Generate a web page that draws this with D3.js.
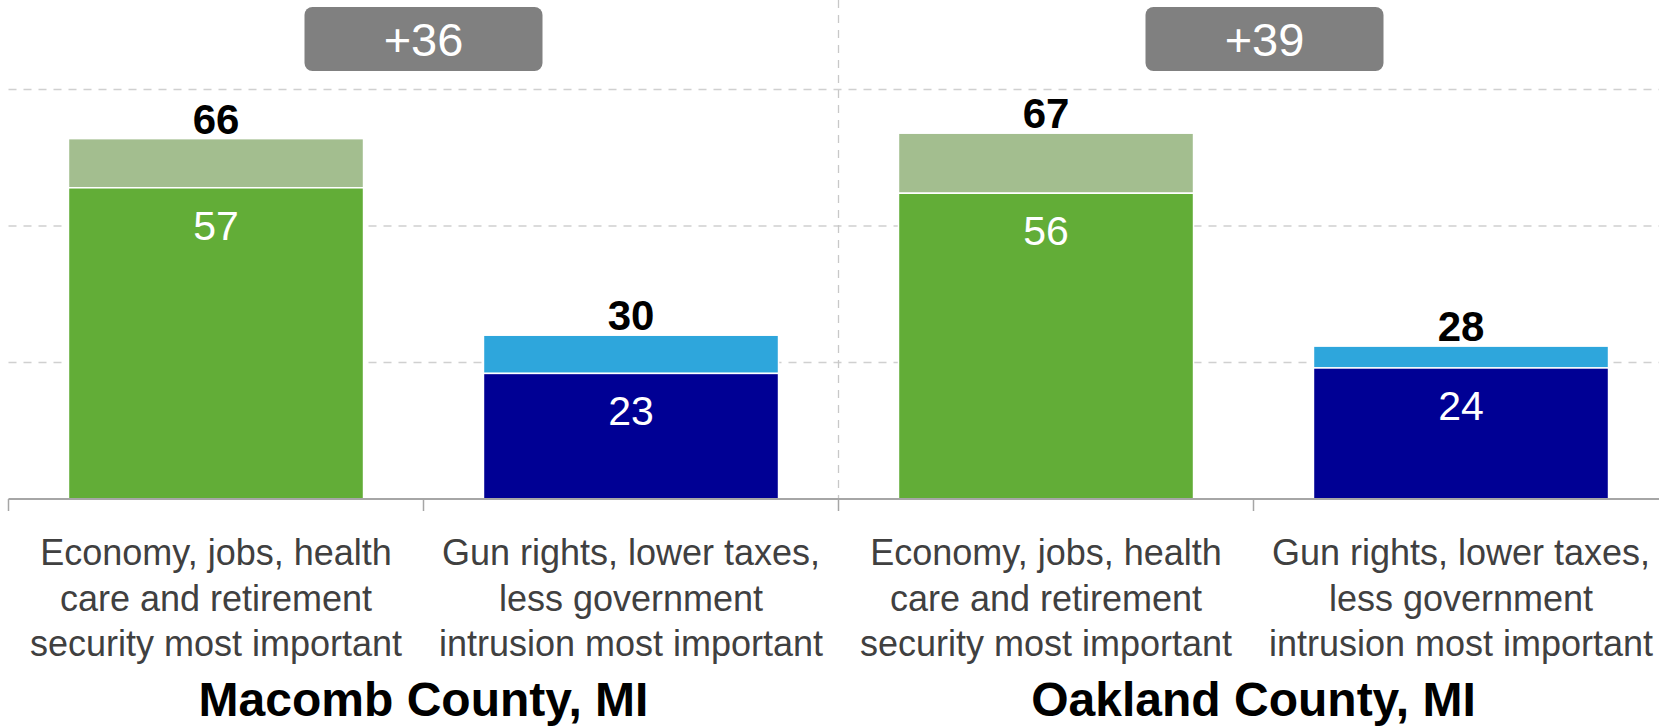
<!DOCTYPE html>
<html>
<head>
<meta charset="utf-8">
<script src="https://cdn.jsdelivr.net/npm/d3@7"></script>
<style>
  html, body { margin: 0; padding: 0; background: #fff; }
  svg { display: block; }
  text { font-family: "Liberation Sans", Arial, Helvetica, sans-serif; }
</style>
</head>
<body>
<svg id="chart" width="1659" height="726"></svg>
<script>
// ---- data ----
const panels = ["Macomb County, MI", "Oakland County, MI"];
const categories = [
  ["Economy, jobs, health", "care and retirement", "security most important"],
  ["Gun rights, lower taxes,", "less government", "intrusion most important"]
];
const coreValues  = [[57, 23], [56, 24]];   // dark segment
const totalValues = [[66, 30], [67, 28]];   // total (label on top)
const marginLabels = ["+36", "+39"];
const yTicks = [25, 50, 75];

// ---- layout ----
const W = 1659, H = 726;
const baseY = 499, topY = 89.5;
const xLeft = 8.5, xRight = 1668.5;
const darkColors  = ["#62ad37", "#000094"];
const lightColors = ["#a3be8f", "#2ea6dc"];
const badgeShift = [0, 11];

const svg = d3.select("#chart");

const keys = [];
panels.forEach((p, pi) => categories.forEach((c, ci) => keys.push(pi + "-" + ci)));

const x = d3.scaleBand().domain(keys).range([xLeft, xRight])
  .paddingInner(0.289).paddingOuter(0.1445);
const step = x.step();
const y = d3.scaleLinear().domain([0, 75]).range([baseY, topY]);

// gridlines
svg.append("g").selectAll("line").data(yTicks).join("line")
  .attr("x1", xLeft).attr("x2", W)
  .attr("y1", d => y(d)).attr("y2", d => y(d))
  .attr("stroke", "#d0d0d0").attr("stroke-width", 1.3)
  .attr("stroke-dasharray", "8,7");

// panel divider
const slotStart = k => x(k) - x.paddingOuter() * step;
svg.append("line")
  .attr("x1", slotStart("1-0")).attr("x2", slotStart("1-0"))
  .attr("y1", 0).attr("y2", baseY)
  .attr("stroke", "#c8c8c8").attr("stroke-width", 1.3)
  .attr("stroke-dasharray", "8,7");

// bars
const rows = [];
panels.forEach((p, pi) => categories.forEach((c, ci) => {
  rows.push({ key: pi + "-" + ci, pi, ci, core: coreValues[pi][ci], total: totalValues[pi][ci] });
}));

const gBars = svg.append("g");
gBars.selectAll("rect.light").data(rows).join("rect").attr("class", "light")
  .attr("x", d => x(d.key)).attr("width", x.bandwidth())
  .attr("y", d => y(d.total)).attr("height", d => y(d.core) - y(d.total))
  .attr("fill", d => lightColors[d.ci])
  .attr("stroke", "#fff").attr("stroke-width", 1.5);
gBars.selectAll("rect.dark").data(rows).join("rect").attr("class", "dark")
  .attr("x", d => x(d.key)).attr("width", x.bandwidth())
  .attr("y", d => y(d.core)).attr("height", d => y(0) - y(d.core))
  .attr("fill", d => darkColors[d.ci])
  .attr("stroke", "#fff").attr("stroke-width", 1.5);

// axis line and boundary ticks
svg.append("line").attr("x1", xLeft).attr("x2", W)
  .attr("y1", baseY).attr("y2", baseY)
  .attr("stroke", "#a6a6a6").attr("stroke-width", 2);
svg.append("g").selectAll("line").data(keys).join("line")
  .attr("x1", k => slotStart(k)).attr("x2", k => slotStart(k))
  .attr("y1", baseY).attr("y2", baseY + 12)
  .attr("stroke", "#a6a6a6").attr("stroke-width", 1.5);

// total labels
svg.append("g").selectAll("text").data(rows).join("text")
  .attr("x", d => x(d.key) + x.bandwidth() / 2)
  .attr("y", d => y(d.total) - 5)
  .attr("text-anchor", "middle")
  .attr("font-size", 42).attr("font-weight", "bold").attr("fill", "#000")
  .text(d => d.total);

// core labels
svg.append("g").selectAll("text").data(rows).join("text")
  .attr("x", d => x(d.key) + x.bandwidth() / 2)
  .attr("y", d => y(d.core) + 52)
  .attr("text-anchor", "middle")
  .attr("font-size", 41).attr("fill", "#fff")
  .text(d => d.core);

// category labels
const lab = svg.append("g").selectAll("text").data(rows).join("text")
  .attr("text-anchor", "middle")
  .attr("font-size", 36).attr("fill", "#404040");
lab.each(function(d) {
  const t = d3.select(this);
  const cx = x(d.key) + x.bandwidth() / 2;
  categories[d.ci].forEach((line, i) => {
    t.append("tspan").attr("x", cx).attr("y", 565 + i * 45.5).text(line);
  });
});

// panel titles and margin badges
const panelCenter = pi => (slotStart(pi + "-0") + slotStart(pi + "-1") + step) / 2;
panels.forEach((p, pi) => {
  const cx = panelCenter(pi);
  svg.append("text").attr("x", cx).attr("y", 716)
    .attr("text-anchor", "middle").attr("font-size", 48).attr("font-weight", "bold")
    .attr("fill", "#000").text(p);
  const bx = cx + badgeShift[pi];
  const bw = 238, bh = 64;
  svg.append("rect").attr("x", bx - bw / 2).attr("y", 7).attr("width", bw).attr("height", bh)
    .attr("rx", 8).attr("ry", 8).attr("fill", "#808080");
  svg.append("text").attr("x", bx).attr("y", 56)
    .attr("text-anchor", "middle").attr("font-size", 47).attr("fill", "#fff")
    .text(marginLabels[pi]);
});
</script>
</body>
</html>
